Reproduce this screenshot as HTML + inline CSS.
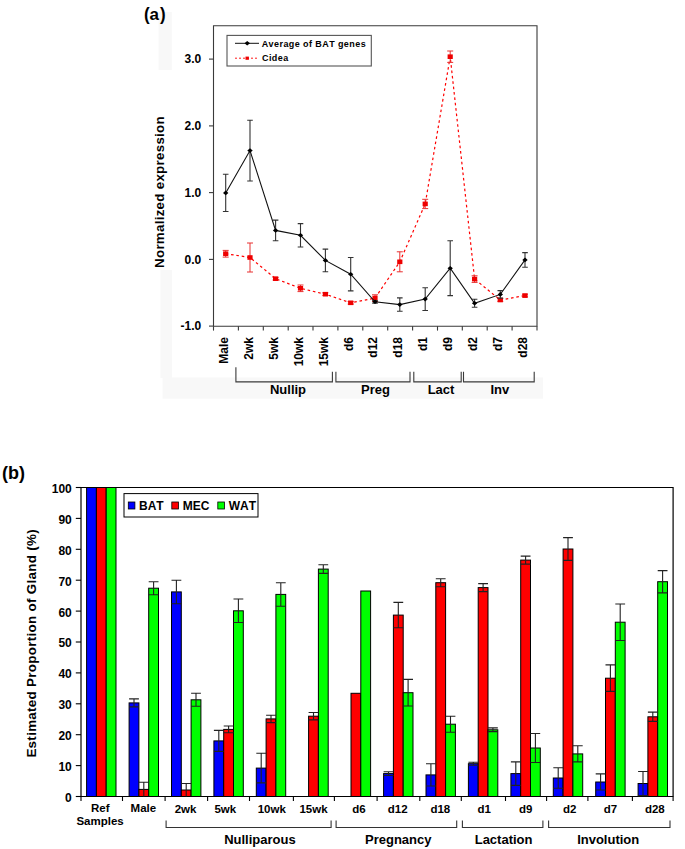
<!DOCTYPE html>
<html><head><meta charset="utf-8"><style>
html,body{margin:0;padding:0;background:#fff;}
svg{display:block;font-family:"Liberation Sans", sans-serif;font-kerning:none;}
</style></head><body>
<svg width="685" height="849" viewBox="0 0 685 849" font-family='"Liberation Sans", sans-serif' fill="#000">
<rect width="685" height="849" fill="#fff"/>
<rect x="158.6" y="12" width="13.2" height="58" fill="#f8f8f8"/>
<rect x="160.5" y="270" width="11.5" height="108" fill="#f8f8f8"/>
<rect x="162.6" y="377.5" width="380.4" height="21.2" fill="#f8f8f8"/>
<text transform="translate(143.90,19.5) scale(1,1.07)" font-size="17" font-weight="bold">(</text>
<text x="149.56" y="19.5" font-size="17" font-weight="bold">a</text>
<text transform="translate(159.91,19.5) scale(1,1.07)" font-size="17" font-weight="bold">)</text>
<path d="M213.5,25.8 H537.0 V326.2 H213.5 Z" fill="none" stroke="#3a3a3a" stroke-width="1.1"/>
<line x1="209" y1="59.1" x2="213.5" y2="59.1" stroke="#3a3a3a" stroke-width="1.1"/>
<text x="201.3" y="63.4" font-size="12" font-weight="bold" text-anchor="end">3.0</text>
<line x1="209" y1="125.9" x2="213.5" y2="125.9" stroke="#3a3a3a" stroke-width="1.1"/>
<text x="201.3" y="130.2" font-size="12" font-weight="bold" text-anchor="end">2.0</text>
<line x1="209" y1="192.6" x2="213.5" y2="192.6" stroke="#3a3a3a" stroke-width="1.1"/>
<text x="201.3" y="196.9" font-size="12" font-weight="bold" text-anchor="end">1.0</text>
<line x1="209" y1="259.4" x2="213.5" y2="259.4" stroke="#3a3a3a" stroke-width="1.1"/>
<text x="201.3" y="263.7" font-size="12" font-weight="bold" text-anchor="end">0.0</text>
<line x1="209" y1="326.1" x2="213.5" y2="326.1" stroke="#3a3a3a" stroke-width="1.1"/>
<text x="201.3" y="330.4" font-size="12" font-weight="bold" text-anchor="end">-1.0</text>
<line x1="213.5" y1="326.2" x2="213.5" y2="330.6" stroke="#3a3a3a" stroke-width="1.1"/>
<line x1="238.4" y1="326.2" x2="238.4" y2="330.6" stroke="#3a3a3a" stroke-width="1.1"/>
<line x1="263.3" y1="326.2" x2="263.3" y2="330.6" stroke="#3a3a3a" stroke-width="1.1"/>
<line x1="288.2" y1="326.2" x2="288.2" y2="330.6" stroke="#3a3a3a" stroke-width="1.1"/>
<line x1="313.0" y1="326.2" x2="313.0" y2="330.6" stroke="#3a3a3a" stroke-width="1.1"/>
<line x1="337.9" y1="326.2" x2="337.9" y2="330.6" stroke="#3a3a3a" stroke-width="1.1"/>
<line x1="362.8" y1="326.2" x2="362.8" y2="330.6" stroke="#3a3a3a" stroke-width="1.1"/>
<line x1="387.7" y1="326.2" x2="387.7" y2="330.6" stroke="#3a3a3a" stroke-width="1.1"/>
<line x1="412.6" y1="326.2" x2="412.6" y2="330.6" stroke="#3a3a3a" stroke-width="1.1"/>
<line x1="437.5" y1="326.2" x2="437.5" y2="330.6" stroke="#3a3a3a" stroke-width="1.1"/>
<line x1="462.3" y1="326.2" x2="462.3" y2="330.6" stroke="#3a3a3a" stroke-width="1.1"/>
<line x1="487.2" y1="326.2" x2="487.2" y2="330.6" stroke="#3a3a3a" stroke-width="1.1"/>
<line x1="512.1" y1="326.2" x2="512.1" y2="330.6" stroke="#3a3a3a" stroke-width="1.1"/>
<line x1="537.0" y1="326.2" x2="537.0" y2="330.6" stroke="#3a3a3a" stroke-width="1.1"/>
<text transform="translate(228.1,337) rotate(-90)" font-size="12" font-weight="bold" text-anchor="end">Male</text>
<text transform="translate(253.0,337) rotate(-90)" font-size="12" font-weight="bold" text-anchor="end">2wk</text>
<text transform="translate(277.9,337) rotate(-90)" font-size="12" font-weight="bold" text-anchor="end">5wk</text>
<text transform="translate(302.8,337) rotate(-90)" font-size="12" font-weight="bold" text-anchor="end">10wk</text>
<text transform="translate(327.7,337) rotate(-90)" font-size="12" font-weight="bold" text-anchor="end">15wk</text>
<text transform="translate(352.6,337) rotate(-90)" font-size="12" font-weight="bold" text-anchor="end">d6</text>
<text transform="translate(377.4,337) rotate(-90)" font-size="12" font-weight="bold" text-anchor="end">d12</text>
<text transform="translate(402.3,337) rotate(-90)" font-size="12" font-weight="bold" text-anchor="end">d18</text>
<text transform="translate(427.2,337) rotate(-90)" font-size="12" font-weight="bold" text-anchor="end">d1</text>
<text transform="translate(452.1,337) rotate(-90)" font-size="12" font-weight="bold" text-anchor="end">d9</text>
<text transform="translate(477.0,337) rotate(-90)" font-size="12" font-weight="bold" text-anchor="end">d2</text>
<text transform="translate(501.9,337) rotate(-90)" font-size="12" font-weight="bold" text-anchor="end">d7</text>
<text transform="translate(526.8,337) rotate(-90)" font-size="12" font-weight="bold" text-anchor="end">d28</text>
<text transform="translate(163.7,192.0) rotate(-90)" font-size="13.3" font-weight="bold" letter-spacing="0.3" text-anchor="middle">Normalized expression</text>
<path d="M235.9,367.3 V381.9 H332.4 V371.7" fill="none" stroke="#3a3a3a" stroke-width="1.1"/>
<text x="288.0" y="394.3" font-size="13" font-weight="bold" text-anchor="middle">Nullip</text>
<path d="M335.9,371.7 V381.9 H410.0 V371.7" fill="none" stroke="#3a3a3a" stroke-width="1.1"/>
<text x="375.5" y="394.3" font-size="13" font-weight="bold" text-anchor="middle">Preg</text>
<path d="M413.8,371.7 V381.9 H461.2 V371.7" fill="none" stroke="#3a3a3a" stroke-width="1.1"/>
<text x="441.0" y="394.3" font-size="13" font-weight="bold" text-anchor="middle">Lact</text>
<path d="M463.5,371.7 V381.9 H534.2 V371.7" fill="none" stroke="#3a3a3a" stroke-width="1.1"/>
<text x="499.8" y="394.3" font-size="13" font-weight="bold" text-anchor="middle">Inv</text>
<polyline points="225.7,253.7 250.0,257.5 275.6,278.7 300.5,288.3 325.4,294.2 350.7,302.8 375.0,298.1 399.8,261.8 425.2,203.9 450.2,56.7 474.6,279.1 500.3,300.0 525.0,295.6" fill="none" stroke="#f00" stroke-width="1.2" stroke-dasharray="2.6,2.8"/>
<path d="M225.7,250.4 V257.1 M222.7,250.4 H228.7 M222.7,257.1 H228.7" stroke="#e83030" stroke-width="1" fill="none"/>
<path d="M250.0,243.0 V272.0 M247.0,243.0 H253.0 M247.0,272.0 H253.0" stroke="#e83030" stroke-width="1" fill="none"/>
<path d="M275.6,277.4 V280.0 M272.6,277.4 H278.6 M272.6,280.0 H278.6" stroke="#e83030" stroke-width="1" fill="none"/>
<path d="M300.5,285.0 V291.6 M297.5,285.0 H303.5 M297.5,291.6 H303.5" stroke="#e83030" stroke-width="1" fill="none"/>
<path d="M325.4,292.8 V295.5 M322.4,292.8 H328.4 M322.4,295.5 H328.4" stroke="#e83030" stroke-width="1" fill="none"/>
<path d="M350.7,301.5 V304.1 M347.7,301.5 H353.7 M347.7,304.1 H353.7" stroke="#e83030" stroke-width="1" fill="none"/>
<path d="M375.0,294.8 V301.5 M372.0,294.8 H378.0 M372.0,301.5 H378.0" stroke="#e83030" stroke-width="1" fill="none"/>
<path d="M399.8,251.8 V271.8 M396.8,251.8 H402.8 M396.8,271.8 H402.8" stroke="#e83030" stroke-width="1" fill="none"/>
<path d="M425.2,199.3 V208.6 M422.2,199.3 H428.2 M422.2,208.6 H428.2" stroke="#e83030" stroke-width="1" fill="none"/>
<path d="M450.2,51.0 V62.4 M447.2,51.0 H453.2 M447.2,62.4 H453.2" stroke="#e83030" stroke-width="1" fill="none"/>
<path d="M474.6,275.8 V282.4 M471.6,275.8 H477.6 M471.6,282.4 H477.6" stroke="#e83030" stroke-width="1" fill="none"/>
<path d="M500.3,298.6 V301.3 M497.3,298.6 H503.3 M497.3,301.3 H503.3" stroke="#e83030" stroke-width="1" fill="none"/>
<path d="M525.0,294.2 V296.9 M522.0,294.2 H528.0 M522.0,296.9 H528.0" stroke="#e83030" stroke-width="1" fill="none"/>
<rect x="223.1" y="251.4" width="5.2" height="4.6" fill="#ee0000"/>
<rect x="247.4" y="255.2" width="5.2" height="4.6" fill="#ee0000"/>
<rect x="273.0" y="276.4" width="5.2" height="4.6" fill="#ee0000"/>
<rect x="297.9" y="286.0" width="5.2" height="4.6" fill="#ee0000"/>
<rect x="322.8" y="291.9" width="5.2" height="4.6" fill="#ee0000"/>
<rect x="348.1" y="300.5" width="5.2" height="4.6" fill="#ee0000"/>
<rect x="372.4" y="295.8" width="5.2" height="4.6" fill="#ee0000"/>
<rect x="397.2" y="259.5" width="5.2" height="4.6" fill="#ee0000"/>
<rect x="422.6" y="201.6" width="5.2" height="4.6" fill="#ee0000"/>
<rect x="447.6" y="54.4" width="5.2" height="4.6" fill="#ee0000"/>
<rect x="472.0" y="276.8" width="5.2" height="4.6" fill="#ee0000"/>
<rect x="497.7" y="297.7" width="5.2" height="4.6" fill="#ee0000"/>
<rect x="522.4" y="293.3" width="5.2" height="4.6" fill="#ee0000"/>
<polyline points="225.7,192.9 250.0,150.6 275.6,230.4 300.5,235.3 325.4,260.4 350.7,274.2 375.0,301.8 399.8,304.6 425.2,299.1 450.2,268.2 474.6,303.3 500.3,294.4 525.0,259.9" fill="none" stroke="#111" stroke-width="1.1"/>
<path d="M225.7,174.2 V211.5 M222.9,174.2 H228.5 M222.9,211.5 H228.5" stroke="#333" stroke-width="1.1" fill="none"/>
<path d="M250.0,120.2 V181.0 M247.2,120.2 H252.8 M247.2,181.0 H252.8" stroke="#333" stroke-width="1.1" fill="none"/>
<path d="M275.6,220.1 V240.8 M272.8,220.1 H278.4 M272.8,240.8 H278.4" stroke="#333" stroke-width="1.1" fill="none"/>
<path d="M300.5,223.6 V247.0 M297.7,223.6 H303.3 M297.7,247.0 H303.3" stroke="#333" stroke-width="1.1" fill="none"/>
<path d="M325.4,249.1 V271.7 M322.6,249.1 H328.2 M322.6,271.7 H328.2" stroke="#333" stroke-width="1.1" fill="none"/>
<path d="M350.7,257.5 V290.9 M347.9,257.5 H353.5 M347.9,290.9 H353.5" stroke="#333" stroke-width="1.1" fill="none"/>
<path d="M375.0,300.5 V303.1 M372.2,300.5 H377.8 M372.2,303.1 H377.8" stroke="#333" stroke-width="1.1" fill="none"/>
<path d="M399.8,297.9 V311.3 M397.0,297.9 H402.6 M397.0,311.3 H402.6" stroke="#333" stroke-width="1.1" fill="none"/>
<path d="M425.2,287.8 V310.5 M422.4,287.8 H428.0 M422.4,310.5 H428.0" stroke="#333" stroke-width="1.1" fill="none"/>
<path d="M450.2,240.8 V295.6 M447.4,240.8 H453.0 M447.4,295.6 H453.0" stroke="#333" stroke-width="1.1" fill="none"/>
<path d="M474.6,299.3 V307.3 M471.8,299.3 H477.4 M471.8,307.3 H477.4" stroke="#333" stroke-width="1.1" fill="none"/>
<path d="M500.3,290.6 V298.1 M497.5,290.6 H503.1 M497.5,298.1 H503.1" stroke="#333" stroke-width="1.1" fill="none"/>
<path d="M525.0,252.6 V267.3 M522.2,252.6 H527.8 M522.2,267.3 H527.8" stroke="#333" stroke-width="1.1" fill="none"/>
<path d="M223.0,192.9 L225.7,190.6 L228.4,192.9 L225.7,195.2 Z" fill="#000"/>
<path d="M247.3,150.6 L250.0,148.3 L252.7,150.6 L250.0,152.9 Z" fill="#000"/>
<path d="M272.9,230.4 L275.6,228.1 L278.3,230.4 L275.6,232.7 Z" fill="#000"/>
<path d="M297.8,235.3 L300.5,233.0 L303.2,235.3 L300.5,237.6 Z" fill="#000"/>
<path d="M322.7,260.4 L325.4,258.1 L328.1,260.4 L325.4,262.7 Z" fill="#000"/>
<path d="M348.0,274.2 L350.7,271.9 L353.4,274.2 L350.7,276.5 Z" fill="#000"/>
<path d="M372.3,301.8 L375.0,299.5 L377.7,301.8 L375.0,304.1 Z" fill="#000"/>
<path d="M397.1,304.6 L399.8,302.3 L402.5,304.6 L399.8,306.9 Z" fill="#000"/>
<path d="M422.5,299.1 L425.2,296.8 L427.9,299.1 L425.2,301.4 Z" fill="#000"/>
<path d="M447.5,268.2 L450.2,265.9 L452.9,268.2 L450.2,270.5 Z" fill="#000"/>
<path d="M471.9,303.3 L474.6,301.0 L477.3,303.3 L474.6,305.6 Z" fill="#000"/>
<path d="M497.6,294.4 L500.3,292.1 L503.0,294.4 L500.3,296.7 Z" fill="#000"/>
<path d="M522.3,259.9 L525.0,257.6 L527.7,259.9 L525.0,262.2 Z" fill="#000"/>
<rect x="227" y="35.4" width="144.3" height="30.6" fill="#fff" stroke="#555" stroke-width="1.1"/>
<line x1="235" y1="43.3" x2="259" y2="43.3" stroke="#111" stroke-width="1"/>
<path d="M244.5,43.3 L247.2,41 L250,43.3 L247.2,45.6 Z" fill="#000"/>
<line x1="235" y1="58.2" x2="259" y2="58.2" stroke="#ff1a1a" stroke-width="1" stroke-dasharray="2,2"/>
<rect x="245.5" y="56.6" width="3.4" height="3.2" fill="#ee0000"/>
<text transform="translate(261.7,46.8) scale(1,1.09)" font-size="9" font-weight="bold" letter-spacing="0.42">Average of BAT genes</text>
<text transform="translate(262,61.2) scale(1,1.09)" font-size="9" font-weight="bold" letter-spacing="0.42">Cidea</text>
<text transform="translate(2.10,478.6) scale(1,1.0)" font-size="18" font-weight="bold">(</text>
<text x="8.09" y="478.6" font-size="18" font-weight="bold">b</text>
<text transform="translate(19.09,478.6) scale(1,1.0)" font-size="18" font-weight="bold">)</text>
<path d="M81.0,487.5 H673.1 V796.5 H81.0 Z" fill="none" stroke="#000" stroke-width="1.2"/>
<line x1="75.8" y1="796.5" x2="81.0" y2="796.5" stroke="#000" stroke-width="1.1"/>
<text x="71.8" y="801.9" font-size="12" font-weight="bold" text-anchor="end">0</text>
<line x1="75.8" y1="765.6" x2="81.0" y2="765.6" stroke="#000" stroke-width="1.1"/>
<text x="71.8" y="771.0" font-size="12" font-weight="bold" text-anchor="end">10</text>
<line x1="75.8" y1="734.7" x2="81.0" y2="734.7" stroke="#000" stroke-width="1.1"/>
<text x="71.8" y="740.1" font-size="12" font-weight="bold" text-anchor="end">20</text>
<line x1="75.8" y1="703.8" x2="81.0" y2="703.8" stroke="#000" stroke-width="1.1"/>
<text x="71.8" y="709.2" font-size="12" font-weight="bold" text-anchor="end">30</text>
<line x1="75.8" y1="672.9" x2="81.0" y2="672.9" stroke="#000" stroke-width="1.1"/>
<text x="71.8" y="678.3" font-size="12" font-weight="bold" text-anchor="end">40</text>
<line x1="75.8" y1="642.0" x2="81.0" y2="642.0" stroke="#000" stroke-width="1.1"/>
<text x="71.8" y="647.4" font-size="12" font-weight="bold" text-anchor="end">50</text>
<line x1="75.8" y1="611.1" x2="81.0" y2="611.1" stroke="#000" stroke-width="1.1"/>
<text x="71.8" y="616.5" font-size="12" font-weight="bold" text-anchor="end">60</text>
<line x1="75.8" y1="580.2" x2="81.0" y2="580.2" stroke="#000" stroke-width="1.1"/>
<text x="71.8" y="585.6" font-size="12" font-weight="bold" text-anchor="end">70</text>
<line x1="75.8" y1="549.3" x2="81.0" y2="549.3" stroke="#000" stroke-width="1.1"/>
<text x="71.8" y="554.7" font-size="12" font-weight="bold" text-anchor="end">80</text>
<line x1="75.8" y1="518.4" x2="81.0" y2="518.4" stroke="#000" stroke-width="1.1"/>
<text x="71.8" y="523.8" font-size="12" font-weight="bold" text-anchor="end">90</text>
<line x1="75.8" y1="487.5" x2="81.0" y2="487.5" stroke="#000" stroke-width="1.1"/>
<text x="71.8" y="492.9" font-size="12" font-weight="bold" text-anchor="end">100</text>
<line x1="81.0" y1="796.5" x2="81.0" y2="801" stroke="#000" stroke-width="1.1"/>
<line x1="122.5" y1="796.5" x2="122.5" y2="801" stroke="#000" stroke-width="1.1"/>
<line x1="165.1" y1="796.5" x2="165.1" y2="801" stroke="#000" stroke-width="1.1"/>
<line x1="207.6" y1="796.5" x2="207.6" y2="801" stroke="#000" stroke-width="1.1"/>
<line x1="249.5" y1="796.5" x2="249.5" y2="801" stroke="#000" stroke-width="1.1"/>
<line x1="293.4" y1="796.5" x2="293.4" y2="801" stroke="#000" stroke-width="1.1"/>
<line x1="334.4" y1="796.5" x2="334.4" y2="801" stroke="#000" stroke-width="1.1"/>
<line x1="377.1" y1="796.5" x2="377.1" y2="801" stroke="#000" stroke-width="1.1"/>
<line x1="419.8" y1="796.5" x2="419.8" y2="801" stroke="#000" stroke-width="1.1"/>
<line x1="461.3" y1="796.5" x2="461.3" y2="801" stroke="#000" stroke-width="1.1"/>
<line x1="505.5" y1="796.5" x2="505.5" y2="801" stroke="#000" stroke-width="1.1"/>
<line x1="546.6" y1="796.5" x2="546.6" y2="801" stroke="#000" stroke-width="1.1"/>
<line x1="587.9" y1="796.5" x2="587.9" y2="801" stroke="#000" stroke-width="1.1"/>
<line x1="632.4" y1="796.5" x2="632.4" y2="801" stroke="#000" stroke-width="1.1"/>
<line x1="673.1" y1="796.5" x2="673.1" y2="801" stroke="#000" stroke-width="1.1"/>
<text transform="translate(35.6,643.3) rotate(-90)" font-size="13.4" letter-spacing="0.3" font-weight="bold" text-anchor="middle">Estimated Proportion of Gland (%)</text>
<rect x="86.6" y="487.5" width="9.8" height="309.0" fill="#0000ff" stroke="#000" stroke-width="1"/>
<rect x="96.4" y="487.5" width="9.8" height="309.0" fill="#ff0000" stroke="#000" stroke-width="1"/>
<rect x="106.2" y="487.5" width="9.8" height="309.0" fill="#00ff00" stroke="#000" stroke-width="1"/>
<rect x="129.1" y="702.9" width="9.8" height="93.6" fill="#0000ff" stroke="#000" stroke-width="1"/>
<rect x="138.9" y="789.4" width="9.8" height="7.1" fill="#ff0000" stroke="#000" stroke-width="1"/>
<rect x="148.7" y="588.2" width="9.8" height="208.3" fill="#00ff00" stroke="#000" stroke-width="1"/>
<rect x="171.5" y="591.9" width="9.8" height="204.6" fill="#0000ff" stroke="#000" stroke-width="1"/>
<rect x="181.3" y="790.0" width="9.8" height="6.5" fill="#ff0000" stroke="#000" stroke-width="1"/>
<rect x="191.1" y="699.8" width="9.8" height="96.7" fill="#00ff00" stroke="#000" stroke-width="1"/>
<rect x="213.9" y="740.9" width="9.8" height="55.6" fill="#0000ff" stroke="#000" stroke-width="1"/>
<rect x="223.7" y="729.4" width="9.8" height="67.1" fill="#ff0000" stroke="#000" stroke-width="1"/>
<rect x="233.5" y="610.8" width="9.8" height="185.7" fill="#00ff00" stroke="#000" stroke-width="1"/>
<rect x="256.3" y="768.1" width="9.8" height="28.4" fill="#0000ff" stroke="#000" stroke-width="1"/>
<rect x="266.1" y="718.9" width="9.8" height="77.6" fill="#ff0000" stroke="#000" stroke-width="1"/>
<rect x="275.9" y="594.4" width="9.8" height="202.1" fill="#00ff00" stroke="#000" stroke-width="1"/>
<rect x="308.6" y="716.2" width="9.8" height="80.3" fill="#ff0000" stroke="#000" stroke-width="1"/>
<rect x="318.4" y="569.1" width="9.8" height="227.4" fill="#00ff00" stroke="#000" stroke-width="1"/>
<rect x="351.0" y="693.3" width="9.8" height="103.2" fill="#ff0000" stroke="#000" stroke-width="1"/>
<rect x="360.8" y="591.0" width="9.8" height="205.5" fill="#00ff00" stroke="#000" stroke-width="1"/>
<rect x="383.6" y="773.6" width="9.8" height="22.9" fill="#0000ff" stroke="#000" stroke-width="1"/>
<rect x="393.4" y="615.1" width="9.8" height="181.4" fill="#ff0000" stroke="#000" stroke-width="1"/>
<rect x="403.2" y="692.7" width="9.8" height="103.8" fill="#00ff00" stroke="#000" stroke-width="1"/>
<rect x="426.0" y="774.9" width="9.8" height="21.6" fill="#0000ff" stroke="#000" stroke-width="1"/>
<rect x="435.8" y="582.7" width="9.8" height="213.8" fill="#ff0000" stroke="#000" stroke-width="1"/>
<rect x="445.6" y="724.2" width="9.8" height="72.3" fill="#00ff00" stroke="#000" stroke-width="1"/>
<rect x="468.4" y="763.7" width="9.8" height="32.8" fill="#0000ff" stroke="#000" stroke-width="1"/>
<rect x="478.2" y="587.6" width="9.8" height="208.9" fill="#ff0000" stroke="#000" stroke-width="1"/>
<rect x="488.0" y="729.8" width="9.8" height="66.7" fill="#00ff00" stroke="#000" stroke-width="1"/>
<rect x="510.9" y="773.6" width="9.8" height="22.9" fill="#0000ff" stroke="#000" stroke-width="1"/>
<rect x="520.7" y="560.1" width="9.8" height="236.4" fill="#ff0000" stroke="#000" stroke-width="1"/>
<rect x="530.5" y="748.0" width="9.8" height="48.5" fill="#00ff00" stroke="#000" stroke-width="1"/>
<rect x="553.3" y="778.0" width="9.8" height="18.5" fill="#0000ff" stroke="#000" stroke-width="1"/>
<rect x="563.1" y="549.0" width="9.8" height="247.5" fill="#ff0000" stroke="#000" stroke-width="1"/>
<rect x="572.9" y="753.9" width="9.8" height="42.6" fill="#00ff00" stroke="#000" stroke-width="1"/>
<rect x="595.7" y="782.0" width="9.8" height="14.5" fill="#0000ff" stroke="#000" stroke-width="1"/>
<rect x="605.5" y="678.2" width="9.8" height="118.3" fill="#ff0000" stroke="#000" stroke-width="1"/>
<rect x="615.3" y="622.2" width="9.8" height="174.3" fill="#00ff00" stroke="#000" stroke-width="1"/>
<rect x="638.1" y="783.5" width="9.8" height="13.0" fill="#0000ff" stroke="#000" stroke-width="1"/>
<rect x="647.9" y="716.8" width="9.8" height="79.7" fill="#ff0000" stroke="#000" stroke-width="1"/>
<rect x="657.7" y="581.7" width="9.8" height="214.8" fill="#00ff00" stroke="#000" stroke-width="1"/>
<path d="M134.0,698.9 V706.9 M129.1,698.9 H138.9 M129.1,706.9 H138.9" stroke="#222" stroke-width="1.1" fill="none"/>
<path d="M143.8,782.3 V796.5 M138.9,782.3 H148.7" stroke="#222" stroke-width="1.1" fill="none"/>
<path d="M153.6,581.7 V594.7 M148.7,581.7 H158.5 M148.7,594.7 H158.5" stroke="#222" stroke-width="1.1" fill="none"/>
<path d="M176.4,580.2 V603.7 M171.5,580.2 H181.3 M171.5,603.7 H181.3" stroke="#222" stroke-width="1.1" fill="none"/>
<path d="M186.2,783.5 V796.5 M181.3,783.5 H191.1" stroke="#222" stroke-width="1.1" fill="none"/>
<path d="M196.0,693.3 V706.3 M191.1,693.3 H200.9 M191.1,706.3 H200.9" stroke="#222" stroke-width="1.1" fill="none"/>
<path d="M218.8,730.4 V751.4 M213.9,730.4 H223.7 M213.9,751.4 H223.7" stroke="#222" stroke-width="1.1" fill="none"/>
<path d="M228.6,726.0 V732.8 M223.7,726.0 H233.5 M223.7,732.8 H233.5" stroke="#222" stroke-width="1.1" fill="none"/>
<path d="M238.4,599.0 V622.5 M233.5,599.0 H243.3 M233.5,622.5 H243.3" stroke="#222" stroke-width="1.1" fill="none"/>
<path d="M261.2,753.2 V782.9 M256.3,753.2 H266.1 M256.3,782.9 H266.1" stroke="#222" stroke-width="1.1" fill="none"/>
<path d="M271.0,715.2 V722.6 M266.1,715.2 H275.9 M266.1,722.6 H275.9" stroke="#222" stroke-width="1.1" fill="none"/>
<path d="M280.8,582.7 V606.2 M275.9,582.7 H285.7 M275.9,606.2 H285.7" stroke="#222" stroke-width="1.1" fill="none"/>
<path d="M313.5,712.5 V719.9 M308.6,712.5 H318.4 M308.6,719.9 H318.4" stroke="#222" stroke-width="1.1" fill="none"/>
<path d="M323.3,564.8 V573.4 M318.4,564.8 H328.2 M318.4,573.4 H328.2" stroke="#222" stroke-width="1.1" fill="none"/>
<path d="M388.5,771.8 V775.5 M383.6,771.8 H393.4 M383.6,775.5 H393.4" stroke="#222" stroke-width="1.1" fill="none"/>
<path d="M398.3,602.4 V627.8 M393.4,602.4 H403.2 M393.4,627.8 H403.2" stroke="#222" stroke-width="1.1" fill="none"/>
<path d="M408.1,679.4 V706.0 M403.2,679.4 H413.0 M403.2,706.0 H413.0" stroke="#222" stroke-width="1.1" fill="none"/>
<path d="M430.9,763.7 V786.0 M426.0,763.7 H435.8 M426.0,786.0 H435.8" stroke="#222" stroke-width="1.1" fill="none"/>
<path d="M440.7,578.7 V586.7 M435.8,578.7 H445.6 M435.8,586.7 H445.6" stroke="#222" stroke-width="1.1" fill="none"/>
<path d="M450.5,716.2 V732.2 M445.6,716.2 H455.4 M445.6,732.2 H455.4" stroke="#222" stroke-width="1.1" fill="none"/>
<path d="M473.3,762.2 V765.3 M468.4,762.2 H478.2 M468.4,765.3 H478.2" stroke="#222" stroke-width="1.1" fill="none"/>
<path d="M483.1,583.6 V591.6 M478.2,583.6 H488.0 M478.2,591.6 H488.0" stroke="#222" stroke-width="1.1" fill="none"/>
<path d="M492.9,727.9 V731.6 M488.0,727.9 H497.8 M488.0,731.6 H497.8" stroke="#222" stroke-width="1.1" fill="none"/>
<path d="M515.8,761.9 V785.4 M510.9,761.9 H520.7 M510.9,785.4 H520.7" stroke="#222" stroke-width="1.1" fill="none"/>
<path d="M525.6,556.1 V564.1 M520.7,556.1 H530.5 M520.7,564.1 H530.5" stroke="#222" stroke-width="1.1" fill="none"/>
<path d="M535.4,733.5 V762.5 M530.5,733.5 H540.2 M530.5,762.5 H540.2" stroke="#222" stroke-width="1.1" fill="none"/>
<path d="M558.2,767.8 V788.2 M553.3,767.8 H563.1 M553.3,788.2 H563.1" stroke="#222" stroke-width="1.1" fill="none"/>
<path d="M568.0,537.6 V560.4 M563.1,537.6 H572.9 M563.1,560.4 H572.9" stroke="#222" stroke-width="1.1" fill="none"/>
<path d="M577.8,745.8 V761.9 M572.9,745.8 H582.7 M572.9,761.9 H582.7" stroke="#222" stroke-width="1.1" fill="none"/>
<path d="M600.6,773.9 V790.0 M595.7,773.9 H605.5 M595.7,790.0 H605.5" stroke="#222" stroke-width="1.1" fill="none"/>
<path d="M610.4,664.9 V691.4 M605.5,664.9 H615.3 M605.5,691.4 H615.3" stroke="#222" stroke-width="1.1" fill="none"/>
<path d="M620.2,604.0 V640.5 M615.3,604.0 H625.1 M615.3,640.5 H625.1" stroke="#222" stroke-width="1.1" fill="none"/>
<path d="M643.0,771.5 V795.6 M638.1,771.5 H647.9 M638.1,795.6 H647.9" stroke="#222" stroke-width="1.1" fill="none"/>
<path d="M652.8,712.1 V721.4 M647.9,712.1 H657.7 M647.9,721.4 H657.7" stroke="#222" stroke-width="1.1" fill="none"/>
<path d="M662.6,570.6 V592.9 M657.7,570.6 H667.5 M657.7,592.9 H667.5" stroke="#222" stroke-width="1.1" fill="none"/>
<rect x="124" y="493.6" width="134" height="23.4" fill="#fff" stroke="#000" stroke-width="1"/>
<rect x="128.3" y="502" width="6.6" height="7" fill="#0000ff" stroke="#000" stroke-width="0.8"/>
<text x="139" y="509.6" font-size="12" font-weight="bold" style="font-kerning:none">BAT</text>
<rect x="171.8" y="502" width="6.6" height="7" fill="#ff0000" stroke="#000" stroke-width="0.8"/>
<text x="182.8" y="509.6" font-size="12" font-weight="bold" style="font-kerning:none">MEC</text>
<rect x="217.8" y="502" width="6.6" height="7" fill="#00ff00" stroke="#000" stroke-width="0.8"/>
<text x="228.8" y="509.6" font-size="12" font-weight="bold" style="font-kerning:none">WAT</text>
<text x="100.30" y="811.8" font-size="11.5" font-weight="bold" text-anchor="middle">Ref</text>
<text x="143.35" y="811.8" font-size="11.5" font-weight="bold" text-anchor="middle">Male</text>
<text x="185.60" y="813.3" font-size="11.5" font-weight="bold" text-anchor="middle">2wk</text>
<text x="225.35" y="813.3" font-size="11.5" font-weight="bold" text-anchor="middle">5wk</text>
<text x="271.80" y="813.3" font-size="11.5" font-weight="bold" text-anchor="middle">10wk</text>
<text x="313.50" y="813.3" font-size="11.5" font-weight="bold" text-anchor="middle">15wk</text>
<text x="358.90" y="813.3" font-size="11.5" font-weight="bold" text-anchor="middle">d6</text>
<text x="397.65" y="813.3" font-size="11.5" font-weight="bold" text-anchor="middle">d12</text>
<text x="440.35" y="813.3" font-size="11.5" font-weight="bold" text-anchor="middle">d18</text>
<text x="484.15" y="813.3" font-size="11.5" font-weight="bold" text-anchor="middle">d1</text>
<text x="525.80" y="813.3" font-size="11.5" font-weight="bold" text-anchor="middle">d9</text>
<text x="569.75" y="813.3" font-size="11.5" font-weight="bold" text-anchor="middle">d2</text>
<text x="610.45" y="813.3" font-size="11.5" font-weight="bold" text-anchor="middle">d7</text>
<text x="654.85" y="813.3" font-size="11.5" font-weight="bold" text-anchor="middle">d28</text>
<text x="100.05" y="825.4" font-size="11.5" font-weight="bold" text-anchor="middle">Samples</text>
<path d="M166.1,820.5 V827.5 H331.1 V820.5" fill="none" stroke="#333" stroke-width="1.1"/>
<text x="259.9" y="844.4" font-size="13" font-weight="bold" text-anchor="middle">Nulliparous</text>
<path d="M336.1,820.5 V827.5 H456.7 V820.5" fill="none" stroke="#333" stroke-width="1.1"/>
<text x="398.25" y="844.4" font-size="13" font-weight="bold" text-anchor="middle">Pregnancy</text>
<path d="M462.4,820.5 V827.5 H542.9 V820.5" fill="none" stroke="#333" stroke-width="1.1"/>
<text x="503.6" y="844.4" font-size="13" font-weight="bold" text-anchor="middle">Lactation</text>
<path d="M548.6,820.5 V827.5 H670.0 V820.5" fill="none" stroke="#333" stroke-width="1.1"/>
<text x="608.2" y="844.4" font-size="13" font-weight="bold" text-anchor="middle">Involution</text>
</svg>
</body></html>
